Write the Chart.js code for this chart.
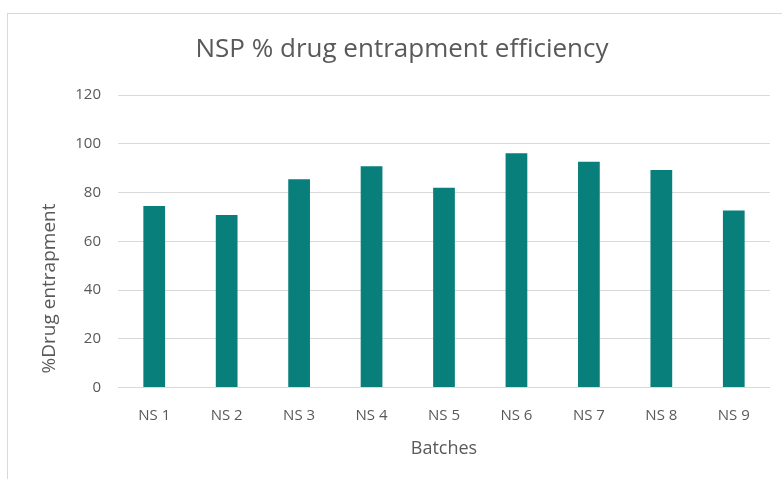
<!DOCTYPE html>
<html lang="en">
  <head>
    <meta charset="UTF-8" />
    <script src="https://cdn.jsdelivr.net/npm/chart.js"></script>
    <title>NSP entrapment</title>
    <style>
      body { margin: 0; background: #fff; }
      #box {
        position: absolute; left: 7px; top: 13px;
        width: 800px; height: 480px;
        border: 1px solid #d9d9d9;
      }
      #wrap { position: absolute; left: 0; top: 0; width: 774px; height: 465px; }
    </style>
  </head>
  <body>
    <div id="box">
      <div id="wrap"><canvas id="nspChart"></canvas></div>
    </div>

    <script>
      const batches = ["NS 1", "NS 2", "NS 3", "NS 4", "NS 5", "NS 6", "NS 7", "NS 8", "NS 9"];
      const entrapment = [74.5, 70.8, 85.5, 90.8, 82.0, 96.2, 92.7, 89.3, 72.6];
      const yTicks = [0, 20, 40, 60, 80, 100, 120];

      const grey = "#595959";
      const font = "'Open Sans', sans-serif";

      // y axis title, drawn by hand so it sits low beside the axis like the Excel original
      const yTitle = {
        id: "yTitle",
        afterDraw(chart) {
          const { ctx, chartArea } = chart;
          ctx.save();
          ctx.translate(chartArea.left - 68, chartArea.bottom - 14);
          ctx.rotate(-Math.PI / 2);
          ctx.font = "19px " + font;
          ctx.fillStyle = grey;
          ctx.textAlign = "left";
          ctx.textBaseline = "middle";
          ctx.fillText("%Drug entrapment", 0, 0);
          ctx.restore();
        },
      };

      new Chart(document.getElementById("nspChart"), {
        type: "bar",
        data: {
          labels: batches,
          datasets: [{
            label: "% drug entrapment",
            data: entrapment,
            backgroundColor: "#097f7b",
            barPercentage: 0.3,
            categoryPercentage: 1,
          }],
        },
        options: {
          responsive: true,
          maintainAspectRatio: false,
          animation: false,
          layout: { padding: { left: 26, right: 12, bottom: 15 } },
          scales: {
            x: {
              grid: { display: false },
              border: { display: false },
              ticks: { color: grey, font: { family: font, size: 15 }, padding: 11 },
              title: {
                display: true, text: "Batches", color: grey,
                font: { family: font, size: 18 }, padding: { top: 3 },
              },
            },
            y: {
              min: 0, max: 120,
              afterBuildTicks: (axis) => { axis.ticks = yTicks.map(v => ({ value: v })); },
              afterFit: (axis) => { axis.width = 84; },
              grid: { color: "#d9d9d9", drawTicks: false },
              border: { display: false },
              ticks: { color: grey, font: { family: font, size: 15 }, padding: 17 },
            },
          },
          plugins: {
            legend: { display: false },
            tooltip: { enabled: false },
            title: {
              display: true, text: "NSP % drug entrapment efficiency", color: grey,
              font: { family: font, size: 26, weight: "normal" },
              padding: { top: 20, bottom: 30 },
            },
          },
        },
        plugins: [yTitle],
      });
    </script>
  </body>
</html>
